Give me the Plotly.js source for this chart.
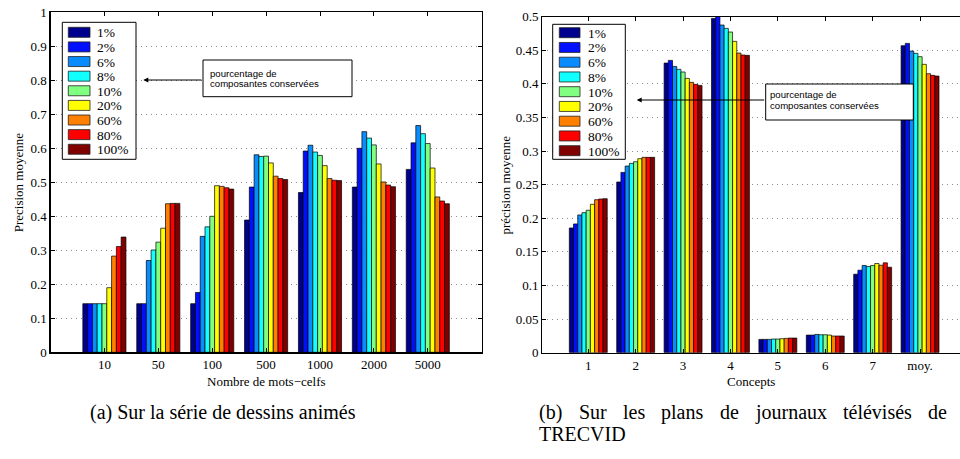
<!DOCTYPE html>
<html>
<head>
<meta charset="utf-8">
<script src="https://cdn.plot.ly/plotly-3.0.1.min.js"></script>
<style>
  html, body { margin: 0; padding: 0; background: #fff; }
  #chart { width: 960px; height: 459px; }
</style>
</head>
<body>
<div id="chart"></div>
<script>
// ---------------- DATA ----------------
const seriesNames = ['1%', '2%', '6%', '8%', '10%', '20%', '60%', '80%', '100%'];
const seriesColors = ['#00008f', '#0010ff', '#0a8cff', '#10ffff', '#80ff80', '#ffff00', '#ff8000', '#ff0000', '#800000'];

// (a) left chart : number of visual words
const catsA = ['10', '50', '100', '500', '1000', '2000', '5000'];
const a1   = [0.143, 0.143, 0.143, 0.389, 0.470, 0.486, 0.538];
const a2   = [0.143, 0.143, 0.176, 0.486, 0.592, 0.600, 0.616];
const a6   = [0.143, 0.270, 0.341, 0.581, 0.609, 0.649, 0.667];
const a8   = [0.143, 0.301, 0.369, 0.576, 0.589, 0.630, 0.643];
const a10  = [0.143, 0.324, 0.400, 0.577, 0.579, 0.610, 0.614];
const a20  = [0.190, 0.365, 0.490, 0.557, 0.549, 0.554, 0.542];
const a60  = [0.283, 0.437, 0.488, 0.518, 0.511, 0.501, 0.457];
const a80  = [0.311, 0.438, 0.484, 0.511, 0.506, 0.492, 0.445];
const a100 = [0.339, 0.438, 0.480, 0.508, 0.505, 0.487, 0.437];

// (b) right chart : concepts
const catsB = ['1', '2', '3', '4', '5', '6', '7', 'moy.'];
const b1   = [0.1856, 0.2540, 0.4310, 0.4975, 0.0198, 0.0262, 0.1168, 0.4568];
const b2   = [0.1916, 0.2683, 0.4350, 0.5020, 0.0198, 0.0262, 0.1228, 0.4603];
const b6   = [0.2050, 0.2778, 0.4260, 0.4876, 0.0198, 0.0272, 0.1297, 0.4489];
const b8   = [0.2084, 0.2817, 0.4216, 0.4826, 0.0203, 0.0267, 0.1282, 0.4454];
const b10  = [0.2120, 0.2842, 0.4177, 0.4772, 0.0203, 0.0267, 0.1297, 0.4405];
const b20  = [0.2208, 0.2887, 0.4082, 0.4633, 0.0208, 0.0262, 0.1327, 0.4291];
const b60  = [0.2277, 0.2907, 0.4023, 0.4459, 0.0213, 0.0248, 0.1302, 0.4152];
const b80  = [0.2287, 0.2907, 0.3993, 0.4430, 0.0218, 0.0248, 0.1337, 0.4127];
const b100 = [0.2292, 0.2907, 0.3978, 0.4425, 0.0218, 0.0248, 0.1272, 0.4117];

const seriesA = [a1, a2, a6, a8, a10, a20, a60, a80, a100];
const seriesB = [b1, b2, b6, b8, b10, b20, b60, b80, b100];

const yTitleA = 'Precision moyenne';
const xTitleA = 'Nombre de mots\u2212celfs';
const yTitleB = 'précision moyenne';
const xTitleB = 'Concepts';
const boxText = ['pourcentage de', 'composantes conservées'];
const captionA = '(a) Sur la série de dessins animés';
const captionB1 = '(b) Sur les plans de journaux télévisés de';
const captionB2 = 'TRECVID';

// ---------------- LAYOUT HELPERS ----------------
const W = 960, H = 459;
const px = x => x / W;
const py = y => 1 - y / H;
const SERIF = 'Liberation Serif';
const SANS = 'Liberation Sans';

const traces = [];
seriesNames.forEach((name, i) => {
  traces.push({
    type: 'bar', x: catsA, y: seriesA[i], name: name, xaxis: 'x', yaxis: 'y',
    marker: { color: seriesColors[i], line: { color: '#000', width: 0.7 } },
    showlegend: false, hoverinfo: 'skip'
  });
  traces.push({
    type: 'bar', x: catsB, y: seriesB[i], name: name, xaxis: 'x2', yaxis: 'y2',
    marker: { color: seriesColors[i], line: { color: '#000', width: 0.7 } },
    showlegend: false, hoverinfo: 'skip'
  });
});

const axisCommon = {
  showline: true, linecolor: '#000', linewidth: 1.2,
  ticks: 'inside', ticklen: 4, tickcolor: '#000', tickwidth: 1,
  tickfont: { family: SERIF, size: 13, color: '#000' },
  zeroline: false, fixedrange: true
};

const shapes = [];
const annotations = [];

// custom legends (rect swatches, like MATLAB)
function addLegend(box, swX0, swX1, textX, row0, step) {
  shapes.push({ type: 'rect', xref: 'paper', yref: 'paper', layer: 'above',
    x0: px(box[0]), x1: px(box[1]), y0: py(box[3]), y1: py(box[2]),
    fillcolor: '#fff', line: { color: '#000', width: 1 } });
  seriesNames.forEach((name, i) => {
    const cy = row0 + i * step;
    shapes.push({ type: 'rect', xref: 'paper', yref: 'paper', layer: 'above',
      x0: px(swX0), x1: px(swX1), y0: py(cy + 5), y1: py(cy - 5),
      fillcolor: seriesColors[i], line: { color: '#222', width: 0.8 } });
    annotations.push({ xref: 'paper', yref: 'paper', x: px(textX), y: py(cy + 0.5),
      xanchor: 'left', yanchor: 'middle', showarrow: false, text: name,
      font: { family: SERIF, size: 13.5, color: '#000' } });
  });
}
addLegend([62.3, 136, 22.3, 159.3], 68.3, 90, 94.5, 32.3, 14.62);
addLegend([552.7, 625.3, 24.3, 159.3], 559.3, 580, 586, 32.7, 14.75);

// annotation boxes with arrows
function addBox(box, textX, lineYs, arrowY, headX) {
  shapes.push({ type: 'rect', xref: 'paper', yref: 'paper', layer: 'above',
    x0: px(box[0]), x1: px(box[1]), y0: py(box[3]), y1: py(box[2]),
    fillcolor: '#fff', line: { color: '#000', width: 1 } });
  boxText.forEach((t, i) => {
    annotations.push({ xref: 'paper', yref: 'paper', x: px(textX), y: py(lineYs[i]),
      xanchor: 'left', yanchor: 'middle', showarrow: false, text: t,
      font: { family: SANS, size: 9.6, color: '#000' } });
  });
  annotations.push({ xref: 'paper', yref: 'paper', x: px(headX), y: py(arrowY),
    ax: box[0] - headX, ay: 0, axref: 'pixel', ayref: 'pixel',
    text: '', showarrow: true, arrowhead: 2, arrowsize: 1, arrowwidth: 1, arrowcolor: '#000' });
}
addBox([203, 352, 60, 96.7], 208.3, [73.3, 83.7], 80, 143.3);
addBox([765.7, 913.3, 84, 120], 768.3, [94.3, 105.3], 100, 636.7);

// axis titles
const AT = 13;
annotations.push({ xref: 'paper', yref: 'paper', x: px(18), y: py(182.3), textangle: -90,
  xanchor: 'center', yanchor: 'middle', showarrow: false, text: yTitleA,
  font: { family: SERIF, size: AT, color: '#000' } });
annotations.push({ xref: 'paper', yref: 'paper', x: px(266), y: py(381), 
  xanchor: 'center', yanchor: 'middle', showarrow: false, text: xTitleA,
  font: { family: SERIF, size: AT, color: '#000' } });
annotations.push({ xref: 'paper', yref: 'paper', x: px(505), y: py(184.5), textangle: -90,
  xanchor: 'center', yanchor: 'middle', showarrow: false, text: yTitleB,
  font: { family: SERIF, size: AT, color: '#000' } });
annotations.push({ xref: 'paper', yref: 'paper', x: px(751), y: py(381),
  xanchor: 'center', yanchor: 'middle', showarrow: false, text: xTitleB,
  font: { family: SERIF, size: AT, color: '#000' } });

// captions
const CAP = 20;
annotations.push({ xref: 'paper', yref: 'paper', x: px(88), y: py(412),
  xanchor: 'left', yanchor: 'middle', showarrow: false, text: captionA,
  font: { family: SERIF, size: CAP, color: '#000' } });
// justified first line of caption (b)
(function () {
  const words = captionB1.split(' ');
  const ctx = document.createElement('canvas').getContext('2d');
  ctx.font = CAP + 'px "Liberation Serif"';
  const widths = words.map(w => ctx.measureText(w).width);
  const left = 537, right = 945;
  const total = widths.reduce((s, v) => s + v, 0);
  const gap = (right - left - total) / (words.length - 1);
  let x = left;
  words.forEach((w, i) => {
    annotations.push({ xref: 'paper', yref: 'paper', x: px(x), y: py(412),
      xanchor: 'left', yanchor: 'middle', showarrow: false, text: w,
      font: { family: SERIF, size: CAP, color: '#000' } });
    x += widths[i] + gap;
  });
})();
annotations.push({ xref: 'paper', yref: 'paper', x: px(537), y: py(434),
  xanchor: 'left', yanchor: 'middle', showarrow: false, text: captionB2,
  font: { family: SERIF, size: CAP, color: '#000' } });

const layout = {
  width: W, height: H,
  margin: { l: 0, r: 0, t: 0, b: 0, pad: 0 },
  paper_bgcolor: '#fff', plot_bgcolor: '#fff',
  barmode: 'group', bargap: 0.2, bargroupgap: 0,
  showlegend: false,
  xaxis: Object.assign({}, axisCommon, {
    domain: [px(50.5), px(481.7)], type: 'category', range: [-1, 7],
    anchor: 'y', mirror: 'ticks', showgrid: false
  }),
  yaxis: Object.assign({}, axisCommon, {
    domain: [py(352.3), py(12.3)], range: [0, 1], dtick: 0.1, tick0: 0,
    anchor: 'x', mirror: 'ticks', showgrid: true, gridcolor: '#8a8a8a',
    griddash: '1px,4px', gridwidth: 1
  }),
  xaxis2: Object.assign({}, axisCommon, {
    domain: [px(542.3), 1], type: 'category', range: [-0.97, 7.843],
    anchor: 'y2', mirror: 'ticks', showgrid: false
  }),
  yaxis2: Object.assign({}, axisCommon, {
    domain: [py(352.7), py(16.7)], range: [0, 0.5], dtick: 0.05, tick0: 0,
    anchor: 'x2', mirror: false, showgrid: true, gridcolor: '#8a8a8a',
    griddash: '1px,4px', gridwidth: 1
  }),
  shapes: shapes,
  annotations: annotations
};

Plotly.newPlot('chart', traces, layout, { staticPlot: true, displayModeBar: false });
</script>
</body>
</html>
